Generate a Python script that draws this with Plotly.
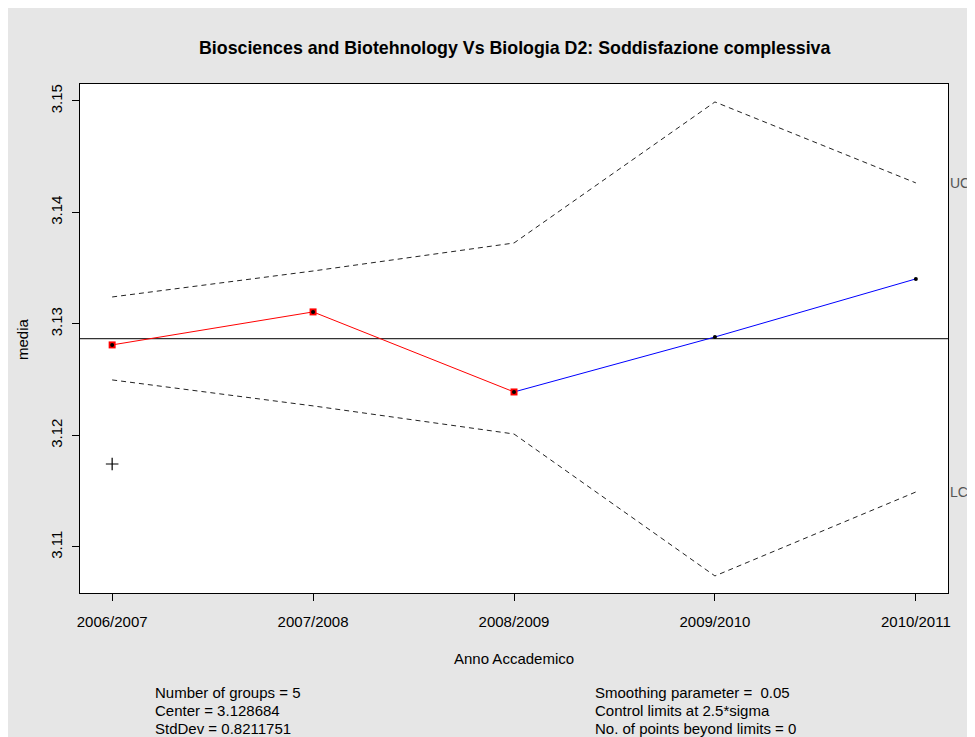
import plotly.graph_objects as go

# ---- data ----
anni = ["2006/2007", "2007/2008", "2008/2009", "2009/2010", "2010/2011"]
gruppi = [1, 2, 3, 4, 5]
ewma = [3.12812, 3.13108, 3.12390, 3.12883, 3.13404]
ucl = [3.13242, 3.13475, 3.13726, 3.14991, 3.14265]
lcl = [3.12498, 3.12265, 3.12013, 3.10740, 3.11493]
center = 3.128684
raw_x = [1]
raw_y = [3.11744]
y_ticks = [3.11, 3.12, 3.13, 3.14, 3.15]
y_ticklabels = ["3.11", "3.12", "3.13", "3.14", "3.15"]
stats_left = ["Number of groups = 5", "Center = 3.128684", "StdDev = 0.8211751"]
stats_right = ["Smoothing parameter =  0.05", "Control limits at 2.5*sigma",
               "No. of points beyond limits = 0"]

FONT = "Liberation Sans, Arial, Helvetica, sans-serif"
OFF = 8  # page body margin
W, H = 975 - OFF, 737 - OFF
# plot area in screen pixels: x 80..948, y 84..593
PL, PR, PT, PB = 80, 948, 84, 593
L, T = PL - OFF, PT - OFF
PW, PH = PR - PL, PB - PT
R, B = W - L - PW, H - T - PH


def px_x(p):
    return (p - PL) / PW


def px_y(p):
    return (PB - p) / PH


fig = go.Figure()

# control limits
fig.add_trace(go.Scatter(x=gruppi, y=ucl, mode="lines",
                         line=dict(color="#222222", width=1, dash="5px,4px"),
                         hoverinfo="skip", showlegend=False))
fig.add_trace(go.Scatter(x=gruppi, y=lcl, mode="lines",
                         line=dict(color="#222222", width=1, dash="5px,4px"),
                         hoverinfo="skip", showlegend=False))
# center line
fig.add_trace(go.Scatter(x=[0.84, 5.16], y=[center, center], mode="lines",
                         line=dict(color="#333333", width=1.2),
                         hoverinfo="skip", showlegend=False))
# raw statistic
fig.add_trace(go.Scatter(x=raw_x, y=raw_y, mode="markers",
                         marker=dict(symbol="cross-thin", size=9,
                                     line=dict(color="black", width=1.2)),
                         showlegend=False))
# EWMA: blue part
fig.add_trace(go.Scatter(x=gruppi[2:], y=ewma[2:], mode="lines",
                         line=dict(color="#0000ff", width=1),
                         showlegend=False))
# EWMA: red part
fig.add_trace(go.Scatter(x=gruppi[:3], y=ewma[:3], mode="lines+markers",
                         line=dict(color="#ff0000", width=1),
                         marker=dict(symbol="square", size=7, color="#ff0000",
                                     line=dict(width=0)),
                         showlegend=False))
# black dots
fig.add_trace(go.Scatter(x=gruppi, y=ewma, mode="markers",
                         marker=dict(symbol="circle", size=4, color="black"),
                         showlegend=False))

axis_common = dict(showline=True, mirror=True, linecolor="black", linewidth=1,
                   ticks="outside", ticklen=7, tickcolor="black", tickwidth=1,
                   showgrid=False, zeroline=False,
                   tickfont=dict(family=FONT, size=15, color="black"))

fig.update_xaxes(range=[0.84, 5.16], tickvals=gruppi, ticktext=anni,
                 ticklabelstandoff=8, **axis_common)
fig.update_yaxes(range=[3.10587, 3.15152], tickvals=y_ticks,
                 ticktext=y_ticklabels, tickangle=-90,
                 ticklabelstandoff=4, **axis_common)

annotations = [
    dict(text="<b>Biosciences and Biotehnology Vs Biologia D2: Soddisfazione complessiva</b>",
         x=0.5, y=px_y(48), xanchor="center", yanchor="middle",
         font=dict(family=FONT, size=17.8, color="black")),
    dict(text="Anno Accademico", x=0.5, y=px_y(658), xanchor="center",
         yanchor="middle", font=dict(family=FONT, size=15, color="black")),
    dict(text="media", x=px_x(22), y=px_y(339), xanchor="center",
         yanchor="middle", textangle=-90,
         font=dict(family=FONT, size=15, color="black")),
    dict(text="UCL", x=px_x(948), xanchor="left", yref="y", y=ucl[-1],
         yanchor="middle", font=dict(family=FONT, size=14, color="#555555")),
    dict(text="LCL", x=px_x(948), xanchor="left", yref="y", y=lcl[-1],
         yanchor="middle", font=dict(family=FONT, size=14, color="#555555")),
]
for i, (a, b) in enumerate(zip(stats_left, stats_right)):
    yy = px_y(692 + 18 * i)
    annotations.append(dict(text=a, x=px_x(153), y=yy, xanchor="left",
                            yanchor="middle",
                            font=dict(family=FONT, size=15, color="black")))
    annotations.append(dict(text=b, x=px_x(593), y=yy, xanchor="left",
                            yanchor="middle",
                            font=dict(family=FONT, size=15, color="black")))
for a in annotations:
    a.setdefault("xref", "paper")
    a.setdefault("yref", "paper")
    a["showarrow"] = False

shapes = [
    dict(type="rect", xref="paper", yref="paper", layer="below",
         x0=0, x1=1, y0=0, y1=1, fillcolor="white", line=dict(width=0)),
]

fig.update_layout(width=W, height=H, autosize=False,
                  margin=dict(l=L, r=R, t=T, b=B),
                  paper_bgcolor="#e6e6e6", plot_bgcolor="white",
                  annotations=annotations, shapes=shapes,
                  showlegend=False,
                  font=dict(family=FONT, size=15, color="black"))

fig.write_html("out.html")
